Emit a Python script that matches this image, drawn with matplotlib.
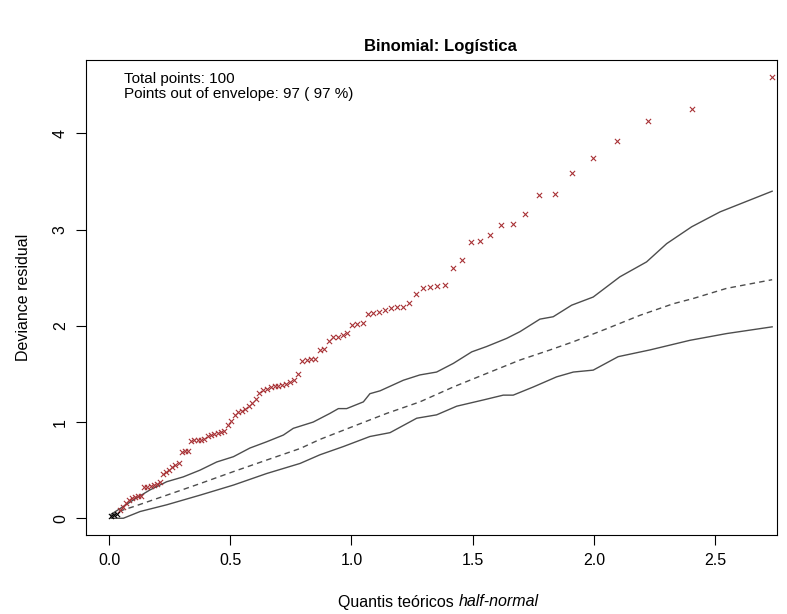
import matplotlib
matplotlib.use("Agg")
import matplotlib.pyplot as plt
import numpy as np

plt.rcParams['font.family'] = ['Liberation Sans', 'DejaVu Sans']

# half-normal theoretical quantiles (x) and sorted deviance residuals (y)
quantis = [0.0078, 0.0203, 0.0328, 0.0453, 0.0579, 0.0704, 0.0829, 0.0955, 0.1080, 0.1206,
           0.1332, 0.1459, 0.1585, 0.1712, 0.1839, 0.1966, 0.2094, 0.2222, 0.2350, 0.2479,
           0.2608, 0.2737, 0.2867, 0.2998, 0.3129, 0.3260, 0.3393, 0.3525, 0.3659, 0.3793,
           0.3927, 0.4063, 0.4199, 0.4336, 0.4474, 0.4612, 0.4752, 0.4892, 0.5034, 0.5176,
           0.5319, 0.5464, 0.5610, 0.5757, 0.5905, 0.6054, 0.6205, 0.6358, 0.6511, 0.6667,
           0.6825, 0.6984, 0.7144, 0.7307, 0.7471, 0.7637, 0.7806, 0.7976, 0.8149, 0.8323,
           0.8501, 0.8682, 0.8866, 0.9052, 0.9242, 0.9436, 0.9633, 0.9834, 1.0038, 1.0247,
           1.0461, 1.0680, 1.0904, 1.1133, 1.1369, 1.1611, 1.1860, 1.2117, 1.2383, 1.2653,
           1.2937, 1.3231, 1.3537, 1.3856, 1.4191, 1.4542, 1.4912, 1.5303, 1.5719, 1.6166,
           1.6646, 1.7167, 1.7740, 1.8378, 1.9103, 1.9942, 2.0951, 2.2235, 2.4045, 2.7350]

residuos = [0.02, 0.03, 0.04, 0.09, 0.12, 0.155, 0.19, 0.21, 0.225, 0.23,
            0.235, 0.32, 0.33, 0.34, 0.35, 0.36, 0.38, 0.46, 0.48, 0.50,
            0.53, 0.55, 0.57, 0.69, 0.70, 0.70, 0.80, 0.81, 0.81, 0.815,
            0.82, 0.86, 0.87, 0.88, 0.89, 0.895, 0.905, 0.97, 1.01, 1.07,
            1.10, 1.12, 1.14, 1.165, 1.20, 1.24, 1.30, 1.33, 1.345, 1.36,
            1.37, 1.38, 1.39, 1.40, 1.42, 1.44, 1.50, 1.64, 1.645, 1.66,
            1.66, 1.75, 1.76, 1.84, 1.88, 1.885, 1.90, 1.93, 2.01, 2.02,
            2.03, 2.12, 2.135, 2.14, 2.17, 2.185, 2.195, 2.20, 2.24, 2.33,
            2.39, 2.40, 2.41, 2.42, 2.60, 2.69, 2.87, 2.88, 2.94, 3.045,
            3.055, 3.16, 3.36, 3.375, 3.59, 3.75, 3.92, 4.13, 4.25, 4.59]

dentro_envelope = [0, 1, 2]   # indices of points inside the envelope

# simulated envelope
env_sup_x = [0.008, 0.045, 0.100, 0.169, 0.238, 0.306, 0.375, 0.444, 0.513, 0.581,
             0.650, 0.719, 0.760, 0.842, 0.911, 0.946, 0.980, 1.049, 1.076, 1.118,
             1.214, 1.282, 1.351, 1.420, 1.496, 1.557, 1.640, 1.695, 1.777, 1.832,
             1.908, 1.997, 2.107, 2.217, 2.300, 2.403, 2.520, 2.735]
env_sup_y = [0.04, 0.10, 0.19, 0.295, 0.38, 0.43, 0.50, 0.585, 0.64, 0.73,
             0.795, 0.865, 0.935, 1.00, 1.09, 1.14, 1.14, 1.21, 1.295, 1.325,
             1.435, 1.49, 1.52, 1.61, 1.73, 1.785, 1.87, 1.94, 2.07, 2.095,
             2.215, 2.30, 2.51, 2.665, 2.855, 3.03, 3.185, 3.40]

env_med_x = [0.008, 0.038, 0.100, 0.238, 0.375, 0.513, 0.650, 0.788, 0.870, 1.007,
             1.145, 1.282, 1.420, 1.557, 1.695, 1.819, 1.915, 2.052, 2.190, 2.327,
             2.410, 2.547, 2.735]
env_med_y = [0.02, 0.07, 0.12, 0.24, 0.36, 0.485, 0.605, 0.725, 0.82, 0.955,
             1.09, 1.21, 1.365, 1.505, 1.645, 1.75, 1.835, 1.97, 2.11, 2.23,
             2.285, 2.39, 2.48]

env_inf_x = [0.008, 0.059, 0.128, 0.238, 0.375, 0.513, 0.650, 0.788, 0.870, 0.966,
             1.076, 1.159, 1.269, 1.351, 1.434, 1.544, 1.626, 1.667, 1.750, 1.846,
             1.915, 1.997, 2.100, 2.231, 2.396, 2.547, 2.735]
env_inf_y = [0.0, 0.0, 0.07, 0.14, 0.24, 0.345, 0.465, 0.57, 0.66, 0.745,
             0.85, 0.89, 1.04, 1.075, 1.165, 1.23, 1.28, 1.28, 1.365, 1.47,
             1.52, 1.54, 1.68, 1.75, 1.85, 1.92, 1.99]

x = np.array(quantis)
y = np.array(residuos)
fora = np.ones(len(x), dtype=bool)
fora[dentro_envelope] = False

fig = plt.figure(figsize=(7.87, 6.14), dpi=100)
ax = fig.add_axes([86/787, 1-535/614, 691/787, 475/614])

linha = '#4d4d4d'
ax.plot(env_sup_x, env_sup_y, color=linha, lw=1.0)
ax.plot(env_inf_x, env_inf_y, color=linha, lw=1.0)
ax.plot(env_med_x, env_med_y, color=linha, lw=1.0, ls=(0, (4, 3)))

ax.scatter(x[fora], y[fora], marker='x', s=14, lw=0.8, color='#a83236', zorder=3)
ax.scatter(x[~fora], y[~fora], marker='x', s=14, lw=0.8, color='black', zorder=3)

ax.set_xlim(-0.095, 2.755)
ax.set_ylim(-0.174, 4.764)
ax.set_xticks([0.0, 0.5, 1.0, 1.5, 2.0, 2.5])
ax.set_xticklabels(['0.0', '0.5', '1.0', '1.5', '2.0', '2.5'])
ax.set_yticks([0, 1, 2, 3, 4])
ax.set_yticklabels(['0', '1', '2', '3', '4'], rotation=90, va='center')
ax.tick_params(direction='out', length=7, width=0.8, labelsize=11.5, pad=6)
for s in ax.spines.values():
    s.set_linewidth(0.8)

fig.text(440/787, 1-47/614, 'Binomial: Logística', ha='center', va='center',
         fontsize=12, fontweight='bold')

n_total = len(x)
n_fora = int(fora.sum())
ax.text(0.055, 0.975, 'Total points: %d\nPoints out of envelope: %d ( %d %%)'
        % (n_total, n_fora, round(100 * n_fora / n_total)),
        transform=ax.transAxes, ha='left', va='top', fontsize=11, linespacing=1.1)

ax.set_ylabel('Deviance residual', fontsize=11.5, labelpad=16)
t1 = fig.text(338/787, 1-602/614, 'Quantis teóricos ', ha='left', va='center', fontsize=11.5)
ax.annotate('half-normal', xy=(1, 0), xycoords=t1, ha='left', va='bottom',
            fontsize=11.5, fontstyle='italic')

fig.savefig('out.png', dpi=100)
